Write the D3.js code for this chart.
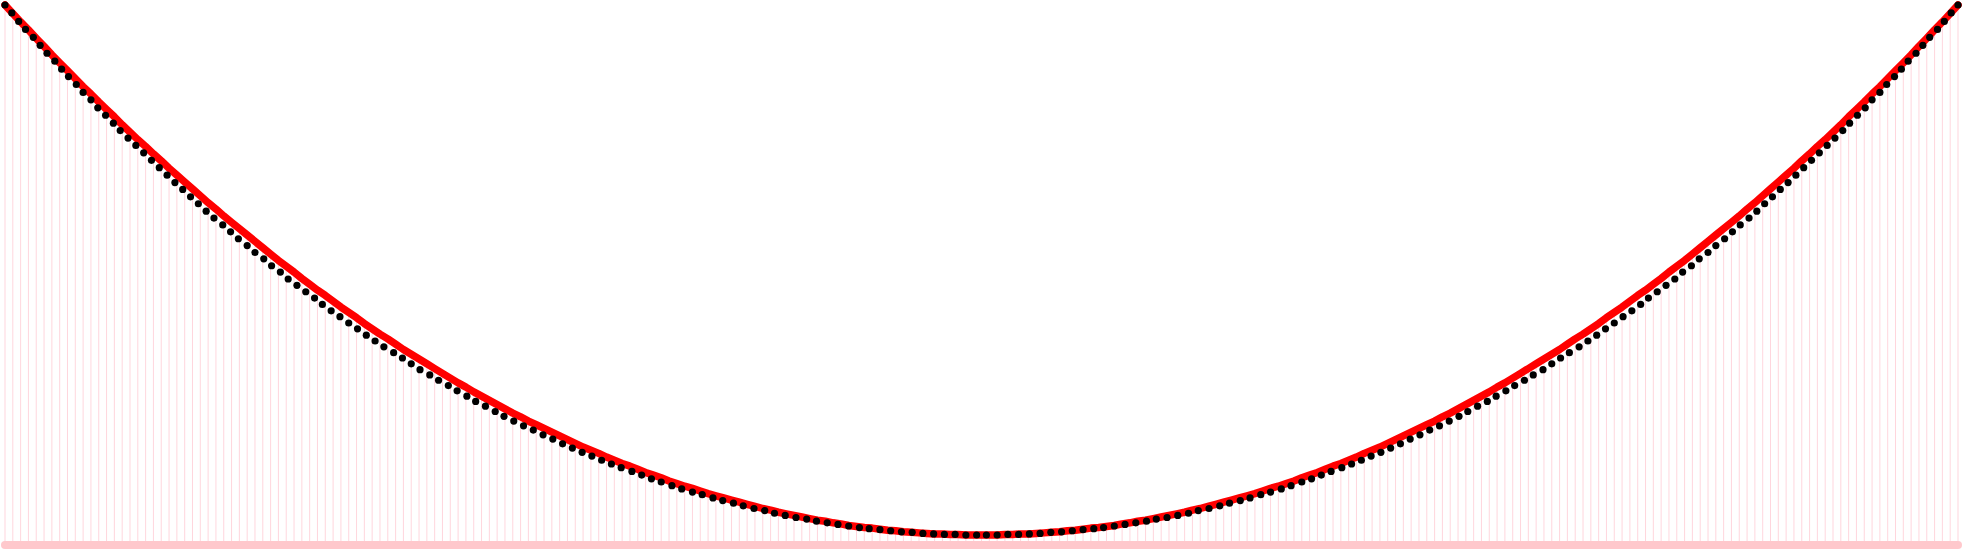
<!DOCTYPE html>
<html><head><meta charset="utf-8">
<script src="https://cdn.jsdelivr.net/npm/d3@7"></script>
<style>html,body{margin:0;padding:0;background:#fff;overflow:hidden}</style>
</head><body><svg id="chart" width="1963" height="550"></svg>
<script>
// Cable (parabola) elevation at each of the 251 evenly spaced hangers (0 = lowest point, 100 = towers)
const cableHeights = [
100.0,98.4,96.8,95.3,93.7,92.2,
90.6,89.1,87.6,86.1,84.6,83.2,81.7,80.3,78.9,77.4,
76.0,74.6,73.3,71.9,70.6,69.2,67.9,66.6,65.3,64.0,
62.7,61.5,60.2,59.0,57.8,56.6,55.4,54.2,53.0,51.8,
50.7,49.6,48.4,47.3,46.2,45.2,44.1,43.0,42.0,41.0,
39.9,38.9,37.9,37.0,36.0,35.0,34.1,33.2,32.3,31.4,
30.5,29.6,28.7,27.9,27.0,26.2,25.4,24.6,23.8,23.0,
22.3,21.5,20.8,20.1,19.4,18.7,18.0,17.3,16.6,16.0,
15.4,14.7,14.1,13.5,13.0,12.4,11.8,11.3,10.8,10.2,
9.7,9.2,8.8,8.3,7.8,7.4,7.0,6.6,6.2,5.8,
5.4,5.0,4.7,4.3,4.0,3.7,3.4,3.1,2.8,2.6,
2.3,2.1,1.8,1.6,1.4,1.3,1.1,0.9,0.8,0.6,
0.5,0.4,0.3,0.2,0.2,0.1,0.1,0.0,0.0,
0.0,
0.0,0.0,0.1,0.1,0.2,0.2,0.3,0.4,0.5,
0.6,0.8,0.9,1.1,1.3,1.4,1.6,1.8,2.1,2.3,
2.6,2.8,3.1,3.4,3.7,4.0,4.3,4.7,5.0,5.4,
5.8,6.2,6.6,7.0,7.4,7.8,8.3,8.8,9.2,9.7,
10.2,10.8,11.3,11.8,12.4,13.0,13.5,14.1,14.7,15.4,
16.0,16.6,17.3,18.0,18.7,19.4,20.1,20.8,21.5,22.3,
23.0,23.8,24.6,25.4,26.2,27.0,27.9,28.7,29.6,30.5,
31.4,32.3,33.2,34.1,35.0,36.0,37.0,37.9,38.9,39.9,
41.0,42.0,43.0,44.1,45.2,46.2,47.3,48.4,49.6,50.7,
51.8,53.0,54.2,55.4,56.6,57.8,59.0,60.2,61.5,62.7,
64.0,65.3,66.6,67.9,69.2,70.6,71.9,73.3,74.6,76.0,
77.4,78.9,80.3,81.7,83.2,84.6,86.1,87.6,89.1,90.6,
92.2,93.7,95.3,96.8,98.4,100.0
];

// Hanging chain links (horizontal position, -1000 .. 1000 across the span)
const chainX = [
-1000,-993,-986,-979,-971,-964,-957,-949,
-942,-935,-927,-920,-912,-905,-897,-889,-882,-874,
-866,-858,-850,-842,-834,-826,-818,-810,-802,-794,
-786,-777,-769,-761,-752,-744,-735,-727,-718,-710,
-701,-692,-683,-675,-666,-657,-648,-639,-630,-621,
-612,-602,-593,-584,-575,-565,-556,-546,-537,-527,
-518,-508,-498,-489,-479,-469,-459,-449,-439,-429,
-419,-409,-399,-389,-379,-369,-358,-348,-338,-328,
-317,-307,-296,-286,-275,-265,-254,-244,-233,-222,
-212,-201,-190,-179,-169,-158,-147,-136,-125,-115,
-104,-93,-82,-71,-60,-49,-38,-27,-16,-5,
5,16,27,38,49,60,71,82,93,104,
115,125,136,147,158,169,179,190,201,212,
222,233,244,254,265,275,286,296,307,317,
328,338,348,358,369,379,389,399,409,419,
429,439,449,459,469,479,489,498,508,518,
527,537,546,556,565,575,584,593,602,612,
621,630,639,648,657,666,675,683,692,701,
710,718,727,735,744,752,761,769,777,786,
794,802,810,818,826,834,842,850,858,866,
874,882,889,897,905,912,920,927,935,942,
949,957,964,971,979,986,993,1000
];

// Hanging chain links (elevation, same units as the cable)
const chainY = [
100.0,98.5,96.9,95.4,93.9,92.4,90.9,89.4,
87.9,86.5,85.0,83.5,82.1,80.6,79.2,77.7,76.3,74.9,
73.5,72.1,70.7,69.3,67.9,66.5,65.2,63.8,62.5,61.1,
59.8,58.5,57.2,55.9,54.6,53.3,52.1,50.8,49.6,48.3,
47.1,45.9,44.7,43.5,42.3,41.2,40.0,38.9,37.7,36.6,
35.5,34.4,33.4,32.3,31.2,30.2,29.2,28.2,27.2,26.2,
25.2,24.3,23.3,22.4,21.5,20.6,19.8,18.9,18.1,17.2,
16.4,15.6,14.9,14.1,13.4,12.7,12.0,11.3,10.6,10.0,
9.3,8.7,8.1,7.6,7.0,6.5,6.0,5.5,5.0,4.6,
4.1,3.7,3.3,3.0,2.6,2.3,2.0,1.7,1.4,1.2,
1.0,0.8,0.6,0.5,0.3,0.2,0.1,0.1,0.0,0.0,
0.0,0.0,0.1,0.1,0.2,0.3,0.5,0.6,0.8,1.0,
1.2,1.4,1.7,2.0,2.3,2.6,3.0,3.3,3.7,4.1,
4.6,5.0,5.5,6.0,6.5,7.0,7.6,8.1,8.7,9.3,
10.0,10.6,11.3,12.0,12.7,13.4,14.1,14.9,15.6,16.4,
17.2,18.1,18.9,19.8,20.6,21.5,22.4,23.3,24.3,25.2,
26.2,27.2,28.2,29.2,30.2,31.2,32.3,33.4,34.4,35.5,
36.6,37.7,38.9,40.0,41.2,42.3,43.5,44.7,45.9,47.1,
48.3,49.6,50.8,52.1,53.3,54.6,55.9,57.2,58.5,59.8,
61.1,62.5,63.8,65.2,66.5,67.9,69.3,70.7,72.1,73.5,
74.9,76.3,77.7,79.2,80.6,82.1,83.5,85.0,86.5,87.9,
89.4,90.9,92.4,93.9,95.4,96.9,98.5,100.0
];

const deckElevation = -1.9;   // road deck sits just below the lowest cable point
const spanEnds = [-1000, 1000];

const svg = d3.select("#chart");
const x = d3.scaleLinear().domain([-1000, 1000]).range([5, 1958]);
const hangerIds = cableHeights.map((_, i) => i);
const xHanger = d3.scalePoint().domain(hangerIds).range([5, 1958]);
const y = d3.scaleLinear().domain([0, 100]).range([535, 5]);

// hangers
svg.append("g").selectAll("line").data(cableHeights).join("line")
  .attr("x1", (d, i) => xHanger(i)).attr("x2", (d, i) => xHanger(i))
  .attr("y1", y(deckElevation)).attr("y2", d => y(d))
  .attr("stroke", "#ffc0cb").attr("stroke-opacity", 0.65).attr("stroke-width", 1);

// deck
svg.append("line")
  .attr("x1", x(spanEnds[0])).attr("x2", x(spanEnds[1]))
  .attr("y1", y(deckElevation)).attr("y2", y(deckElevation))
  .attr("stroke", "#ffc8cc").attr("stroke-width", 8).attr("stroke-linecap", "round");

// cable
svg.append("path").datum(cableHeights)
  .attr("d", d3.line().x((d, i) => xHanger(i)).y(d => y(d)))
  .attr("fill", "none").attr("stroke", "#ff0000").attr("stroke-width", 7.5)
  .attr("stroke-linecap", "round").attr("stroke-linejoin", "round");

// chain
svg.append("g").selectAll("circle").data(chainX).join("circle")
  .attr("cx", d => x(d)).attr("cy", (d, i) => y(chainY[i]))
  .attr("r", 3.6).attr("fill", "#000");
</script></body></html>
